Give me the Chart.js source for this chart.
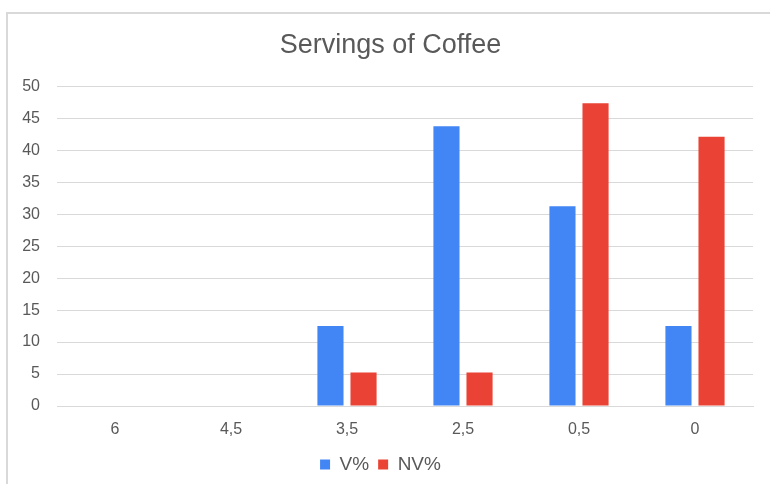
<!DOCTYPE html>
<html>
<head>
<meta charset="utf-8">
<script src="https://cdn.jsdelivr.net/npm/chart.js@4"></script>
<style>
  html, body { margin: 0; padding: 0; background: #fff; }
  #wrap { position: relative; width: 770px; height: 484px; overflow: hidden; }
  #frame { position: absolute; left: 6px; top: 12px; width: 800px; height: 500px;
           border-top: 2px solid #d9d9d9; border-left: 2px solid #d9d9d9; box-sizing: border-box; }
  canvas { position: absolute; left: 0; top: 0; }
</style>
</head>
<body>
<div id="wrap">
  <div id="frame"></div>
  <canvas id="c" width="770" height="484"></canvas>
</div>
<script>
// Servings per day, as labelled on the category axis
const categories = ['6', '4,5', '3,5', '2,5', '0,5', '0'];
// Share of respondents (%) in each group
const vPercent  = [0, 0, 12.5, 43.75, 31.25, 12.5];
const nvPercent = [0, 0, 5.26, 5.26, 47.37, 42.11];
const yTicks = [0, 5, 10, 15, 20, 25, 30, 35, 40, 45, 50];

const textColor = '#595959';
const fontFamily = '"Liberation Sans", Arial, sans-serif';

// Centre the title over the framed card rather than the padded canvas
const titleShift = {
  id: 'titleShift',
  afterLayout(chart) {
    const t = chart.titleBlock;
    if (t) { t.left += 10; t.right += 10; }
  }
};

new Chart(document.getElementById('c'), {
  type: 'bar',
  data: {
    labels: categories,
    datasets: [
      { label: 'V%',  data: vPercent,  backgroundColor: '#4285f4', categoryPercentage: 0.57, barPercentage: 0.79 },
      { label: 'NV%', data: nvPercent, backgroundColor: '#ea4335', categoryPercentage: 0.57, barPercentage: 0.79 }
    ]
  },
  plugins: [titleShift],
  options: {
    responsive: false,
    animation: false,
    layout: { padding: { left: 8, right: 17, top: 16, bottom: 0 } },
    plugins: {
      title: {
        display: true,
        text: 'Servings of Coffee',
        color: textColor,
        font: { family: fontFamily, size: 27, weight: 'normal', lineHeight: 1.2 },
        padding: { top: 13, bottom: 25 }
      },
      legend: {
        position: 'bottom',
        labels: {
          color: textColor,
          font: { family: fontFamily, size: 19 },
          boxWidth: 10, boxHeight: 10, padding: 9
        }
      },
      tooltip: { enabled: false }
    },
    scales: {
      x: {
        grid: { display: false },
        border: { display: true, color: '#d9d9d9', width: 1 },
        ticks: { color: textColor, font: { family: fontFamily, size: 16 }, padding: 6 },
        afterFit: (s) => { s.height = 40; }
      },
      y: {
        min: 0, max: 50,
        afterBuildTicks: (s) => { s.ticks = yTicks.map(v => ({ value: v })); },
        grid: { color: '#d9d9d9', lineWidth: 1, drawTicks: false },
        border: { display: false },
        ticks: { color: textColor, font: { family: fontFamily, size: 16 }, padding: 17 },
        afterFit: (s) => { s.width = 49; }
      }
    }
  }
});
</script>
</body>
</html>
